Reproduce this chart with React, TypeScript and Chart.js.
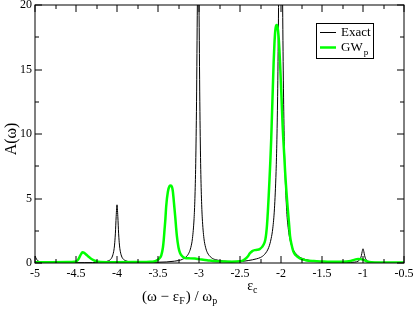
import React, { useEffect, useRef } from "react";
import { Chart, registerables } from "chart.js";

Chart.register(...registerables);

// ---- data ----
const exactX = [
  -5.0, -4.98, -4.95, -4.9, -4.8, -4.6, -4.4, -4.3, -4.2, -4.15, -4.1, -4.08, -4.06, -4.04, -4.03, -4.02, -4.01,
  -4.0, -3.99, -3.98, -3.97, -3.96, -3.94, -3.92, -3.9, -3.85, -3.8, -3.7, -3.6, -3.5, -3.4, -3.3, -3.25, -3.2,
  -3.15, -3.12, -3.1, -3.08, -3.06, -3.05, -3.04, -3.03, -3.02, -3.01, -3.0, -2.99, -2.98, -2.97, -2.96, -2.94,
  -2.92, -2.9, -2.85, -2.8, -2.7, -2.6, -2.5, -2.4, -2.3, -2.25, -2.2, -2.15, -2.12, -2.1, -2.08, -2.06, -2.05,
  -2.04, -2.03, -2.02, -2.005, -1.99, -1.98, -1.97, -1.96, -1.95, -1.93, -1.91, -1.89, -1.86, -1.8, -1.7, -1.6,
  -1.5, -1.4, -1.3, -1.2, -1.1, -1.06, -1.04, -1.03, -1.02, -1.01, -1.0, -0.99, -0.98, -0.97, -0.96, -0.94, -0.9,
  -0.8, -0.7, -0.6, -0.5,
];
const exactY = [
  0.55, 0.28, 0.12, 0.05, 0.03, 0.02, 0.03, 0.03, 0.06, 0.09, 0.18, 0.27, 0.46, 0.91, 1.39, 2.26, 3.61,
  4.51, 3.61, 2.26, 1.39, 0.91, 0.46, 0.28, 0.19, 0.1, 0.07, 0.05, 0.05, 0.06, 0.08, 0.14, 0.19, 0.29,
  0.52, 0.82, 1.2, 1.9, 3.45, 5.0, 7.7, 12.5, 20, 25, 20, 12.5, 7.7, 5.03, 3.48, 1.92,
  1.22, 0.83, 0.42, 0.26, 0.15, 0.12, 0.12, 0.19, 0.32, 0.43, 0.67, 1.2, 1.9, 2.7, 4.2, 7.1, 9.6,
  13.5, 19.8, 27.6, 40, 29.4, 20, 13.5, 9.4, 6.9, 4.0, 2.6, 1.8, 1.16, 0.6, 0.27, 0.16,
  0.1, 0.07, 0.06, 0.05, 0.07, 0.14, 0.25, 0.36, 0.57, 0.89, 1.1, 0.89, 0.57, 0.36, 0.24, 0.14, 0.07,
  0.04, 0.03, 0.02, 0.02,
];

const gwX = [
  -5.0, -4.8, -4.6, -4.52, -4.49, -4.47, -4.45, -4.43, -4.42, -4.4, -4.37, -4.35, -4.32, -4.28, -4.25, -4.2,
  -4.0, -3.8, -3.7, -3.6, -3.55, -3.52, -3.5, -3.48, -3.46, -3.44, -3.43, -3.42, -3.41, -3.4, -3.38, -3.36,
  -3.345, -3.33, -3.32, -3.3, -3.29, -3.28, -3.27, -3.25, -3.23, -3.2, -3.17, -3.12, -3.05, -3.0, -2.9, -2.83,
  -2.7, -2.6, -2.5, -2.45, -2.4, -2.38, -2.35, -2.32, -2.29, -2.26, -2.23, -2.2, -2.19, -2.18, -2.17, -2.16,
  -2.15, -2.14, -2.13, -2.12, -2.11, -2.1, -2.09, -2.08, -2.07, -2.06, -2.05, -2.04, -2.03, -2.02, -2.01, -2.0,
  -1.99, -1.98, -1.97, -1.96, -1.95, -1.94, -1.93, -1.92, -1.9, -1.89, -1.87, -1.85, -1.82, -1.77, -1.7, -1.6,
  -1.5, -1.4, -1.3, -1.2, -1.15, -1.12, -1.09, -1.06, -1.03, -1.0, -0.97, -0.94, -0.9, -0.8, -0.5,
];
const gwY = [
  0.06, 0.06, 0.07, 0.1, 0.15, 0.3, 0.55, 0.78, 0.83, 0.78, 0.62, 0.5, 0.35, 0.2, 0.12, 0.08,
  0.06, 0.07, 0.08, 0.1, 0.12, 0.18, 0.25, 0.38, 0.6, 1.2, 1.8, 2.6, 3.4, 4.4, 5.5, 5.95,
  6.0, 5.9, 5.6, 4.3, 3.6, 2.8, 2.1, 1.2, 0.75, 0.5, 0.38, 0.36, 0.34, 0.3, 0.22, 0.15,
  0.11, 0.1, 0.13, 0.25, 0.55, 0.75, 0.92, 1.0, 1.02, 1.08, 1.25, 1.6, 1.85, 2.3, 3.0, 4.0,
  5.2, 6.5, 7.9, 9.5, 11.5, 13.5, 15.5, 17.0, 18.0, 18.4, 18.45, 18.2, 17.6, 16.6, 15.3, 13.8,
  12.2, 10.6, 9.4, 8.3, 7.1, 6.1, 5.2, 4.4, 2.9, 2.1, 1.4, 0.9, 0.6, 0.36, 0.22, 0.15,
  0.12, 0.1, 0.1, 0.12, 0.16, 0.22, 0.28, 0.31, 0.3, 0.26, 0.18, 0.1, 0.06, 0.04, 0.03,
];

const xTickValues = [-5, -4.5, -4, -3.5, -3, -2.5, -2, -1.5, -1, -0.5];
const yTickValues = [0, 5, 10, 15, 20];
const seriesLabels = ["Exact", "GW"];
const seriesSubs = ["", "p"];
const epsCValue = -2.4;

const SERIF = '"Liberation Serif", "Times New Roman", serif';

const decorPlugin = {
  id: "decor",
  afterDraw(chart: any) {
    const { ctx, chartArea: a } = chart;
    const xs = chart.scales.x;
    const ys = chart.scales.y;
    ctx.save();
    ctx.strokeStyle = "#000";
    ctx.lineWidth = 1;
    ctx.strokeRect(a.left, a.top, a.right - a.left, a.bottom - a.top);

    const major = 7;
    const minor = 4;
    const tick = (x1: number, y1: number, x2: number, y2: number) => {
      ctx.beginPath();
      ctx.moveTo(x1, y1);
      ctx.lineTo(x2, y2);
      ctx.stroke();
    };
    // x ticks (major + minor at midpoints)
    for (let i = 0; i < xTickValues.length; i++) {
      const px = Math.round(xs.getPixelForValue(xTickValues[i]));
      tick(px, a.bottom, px, a.bottom - major);
      tick(px, a.top, px, a.top + major);
      if (i < xTickValues.length - 1) {
        const m = Math.round(xs.getPixelForValue((xTickValues[i] + xTickValues[i + 1]) / 2));
        tick(m, a.bottom, m, a.bottom - minor);
        tick(m, a.top, m, a.top + minor);
      }
    }
    for (let i = 0; i < yTickValues.length; i++) {
      const py = Math.round(ys.getPixelForValue(yTickValues[i]));
      tick(a.left, py, a.left + major, py);
      tick(a.right, py, a.right - major, py);
      if (i < yTickValues.length - 1) {
        const m = Math.round(ys.getPixelForValue((yTickValues[i] + yTickValues[i + 1]) / 2));
        tick(a.left, m, a.left + minor, m);
        tick(a.right, m, a.right - minor, m);
      }
    }

    ctx.fillStyle = "#000";
    ctx.textBaseline = "alphabetic";
    ctx.textAlign = "left";

    // x axis title: (ω − ε_F) / ω_p
    const main = `15px ${SERIF}`;
    const sub = `10px ${SERIF}`;
    const parts: [string, boolean][] = [["(ω − ε", false], ["F", true], [") / ω", false], ["p", true]];
    let tx = a.left + 107;
    const ty = a.bottom + 38;
    for (const [t, s] of parts) {
      ctx.font = s ? sub : main;
      ctx.fillText(t, tx, s ? ty + 3 : ty);
      tx += ctx.measureText(t).width + (s ? 1 : 0);
    }

    // y axis title
    ctx.save();
    ctx.translate(a.left - 19, (a.top + a.bottom) / 2 + 5);
    ctx.rotate(-Math.PI / 2);
    ctx.font = `16px ${SERIF}`;
    ctx.textAlign = "center";
    ctx.fillText("A(ω)", 0, 0);
    ctx.restore();

    // ε_c marker label
    const ex = xs.getPixelForValue(epsCValue);
    ctx.font = `14px ${SERIF}`;
    ctx.fillText("ε", ex - 1, a.bottom + 27);
    const ew = ctx.measureText("ε").width;
    ctx.font = `10px ${SERIF}`;
    ctx.fillText("c", ex - 1 + ew, a.bottom + 30);

    // legend
    const bx = a.right - 88;
    const by = a.top + 18;
    const bw = 57;
    const bh = 35;
    ctx.fillStyle = "#fff";
    ctx.fillRect(bx, by, bw, bh);
    ctx.strokeStyle = "#000";
    ctx.lineWidth = 1;
    ctx.strokeRect(bx + 0.5, by + 0.5, bw, bh);
    const colors = ["#000000", "#00ff00"];
    const widths = [1, 2.5];
    for (let i = 0; i < seriesLabels.length; i++) {
      const ly = by + 9 + i * 15;
      ctx.strokeStyle = colors[i];
      ctx.lineWidth = widths[i];
      ctx.beginPath();
      ctx.moveTo(bx + 4, ly + 0.5);
      ctx.lineTo(bx + 20, ly + 0.5);
      ctx.stroke();
      ctx.fillStyle = "#000";
      ctx.font = `13px ${SERIF}`;
      ctx.fillText(seriesLabels[i], bx + 25, ly + 4);
      if (seriesSubs[i]) {
        const w = ctx.measureText(seriesLabels[i]).width;
        ctx.font = `9px ${SERIF}`;
        ctx.fillText(seriesSubs[i], bx + 25 + w + 1, ly + 8);
      }
    }
    ctx.restore();
  },
};

export default function App() {
  const ref = useRef<HTMLCanvasElement | null>(null);

  useEffect(() => {
    document.body.style.margin = "0";
    const canvas = ref.current;
    if (!canvas) return;
    const chart = new Chart(canvas, {
      type: "line",
      data: {
        datasets: [
          {
            label: "Exact",
            data: exactX.map((x, i) => ({ x, y: exactY[i] })),
            borderColor: "#000000",
            borderWidth: 1,
            pointRadius: 0,
            cubicInterpolationMode: "monotone",
            order: 2,
          },
          {
            label: "GWp",
            data: gwX.map((x, i) => ({ x, y: gwY[i] })),
            borderColor: "#00ff00",
            borderWidth: 2.5,
            pointRadius: 0,
            cubicInterpolationMode: "monotone",
            order: 1,
          },
        ],
      },
      options: {
        animation: false,
        responsive: false,
        maintainAspectRatio: false,
        layout: { padding: { top: 5, right: 11, left: 0, bottom: 0 } },
        plugins: { legend: { display: false }, tooltip: { enabled: false } },
        scales: {
          x: {
            type: "linear",
            min: -5,
            max: -0.5,
            grid: { display: false, drawTicks: false },
            border: { display: false },
            afterBuildTicks: (s: any) => {
              s.ticks = xTickValues.map((v) => ({ value: v }));
            },
            afterFit: (s: any) => {
              s.height = 48;
              s.paddingLeft = 0;
              s.paddingRight = 0;
            },
            ticks: {
              color: "#000",
              padding: 4,
              maxRotation: 0,
              autoSkip: false,
              font: { family: SERIF, size: 12 },
              callback: (v: any) => String(v),
            },
          },
          y: {
            type: "linear",
            min: 0,
            max: 20,
            grid: { display: false, drawTicks: false },
            border: { display: false },
            afterBuildTicks: (s: any) => {
              s.ticks = yTickValues.map((v) => ({ value: v }));
            },
            afterFit: (s: any) => {
              s.width = 35;
              s.paddingTop = 0;
              s.paddingBottom = 0;
            },
            ticks: {
              color: "#000",
              padding: 3,
              font: { family: SERIF, size: 12 },
              callback: (v: any) => String(v),
            },
          },
        },
      },
      plugins: [decorPlugin],
    } as any);
    return () => chart.destroy();
  }, []);

  return (
    <div style={{ width: 415, height: 311 }}>
      <canvas ref={ref} width={415} height={311} style={{ display: "block" }} />
    </div>
  );
}
